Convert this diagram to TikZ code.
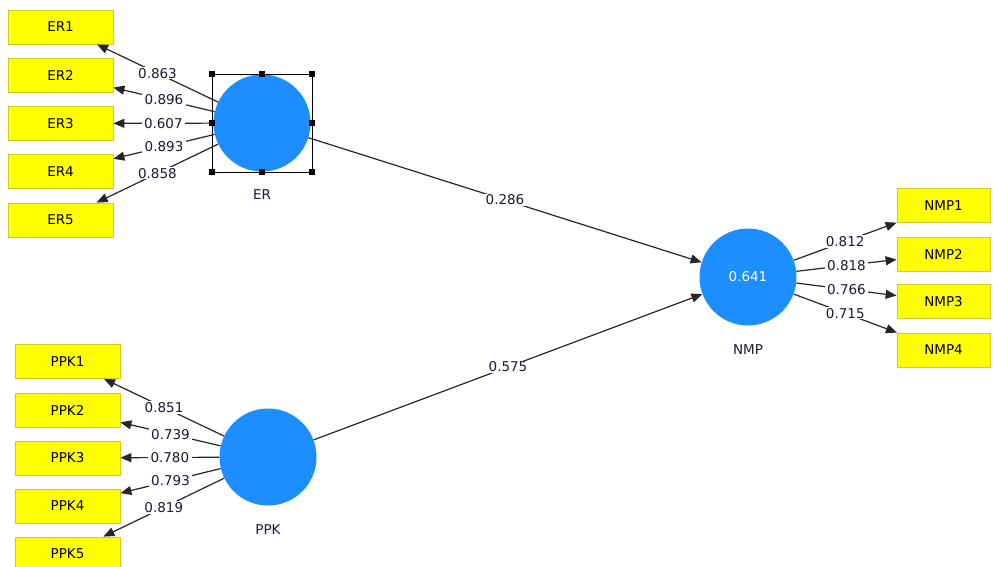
\documentclass[tikz,border=0pt]{standalone}
\usepackage{fontspec}
\setmainfont{DejaVu Sans}
\usetikzlibrary{arrows.meta}
\definecolor{lvblue}{RGB}{28,142,255}
\definecolor{indyel}{RGB}{255,255,0}
\definecolor{indbord}{RGB}{205,205,40}
\definecolor{lbltxt}{RGB}{25,25,50}
\begin{document}
\begin{tikzpicture}[x=1pt,y=-1pt,
  every node/.style={font=\fontsize{13.5}{15}\selectfont},
  ind/.style={draw=indbord, fill=indyel, line width=0.8pt, minimum width=105pt, minimum height=34pt, inner sep=0pt, text=black},
  indn/.style={ind, minimum width=93pt},
  lv/.style={circle, fill=lvblue, minimum size=97pt, inner sep=0pt},
  lvname/.style={text=lbltxt},
  ld/.style={draw=black!85, line width=1.2pt, -{Triangle[length=11pt,width=9pt]}},
  lbl/.style={fill=white, inner xsep=2.5pt, inner ysep=1pt, text=lbltxt},
  handle/.style={fill=black, minimum size=6pt, inner sep=0pt}]
\useasboundingbox (0,0) rectangle (993,567);
\fill[white] (0,0) rectangle (993,567);

% indicator boxes
\node[ind] (ER1) at (60.5,27) {ER1};
\node[ind] (ER2) at (60.5,75) {ER2};
\node[ind] (ER3) at (60.5,123.5) {ER3};
\node[ind] (ER4) at (60.5,171.5) {ER4};
\node[ind] (ER5) at (60.5,220) {ER5};
\node[ind] (PPK1) at (67.5,361.5) {PPK1};
\node[ind] (PPK2) at (67.5,410) {PPK2};
\node[ind] (PPK3) at (67.5,458) {PPK3};
\node[ind] (PPK4) at (67.5,506) {PPK4};
\node[ind] (PPK5) at (67.5,554) {PPK5};
\node[indn] (NMP1) at (943.5,205.5) {NMP1};
\node[indn] (NMP2) at (943.5,254) {NMP2};
\node[indn] (NMP3) at (943.5,301.5) {NMP3};
\node[indn] (NMP4) at (943.5,350) {NMP4};

% latent variables
\node[lv] (ER) at (262,123) {};
\node[lv] (PPK) at (268,457) {};
\node[lv, text=white] (NMP) at (748,277) {0.641};
\node[lvname] (ERn) at (262,195) {ER};
\node[lvname] (PPKn) at (268,530) {PPK};
\node[lvname] (NMPn) at (748,350) {NMP};

% selection frame around ER
\node[draw, line width=0.9pt, minimum width=100pt, minimum height=98pt, inner sep=0pt] (sel) at (262,123) {};
\foreach \a [count=\i] in {north west,north,north east,east,south east,south,south west,west}
  \node[handle] (h\i) at (sel.\a) {};

% outer loadings
\draw[ld] (ER) -- node[lbl,midway]{0.863} (ER1);
\draw[ld] (ER) -- node[lbl,midway]{0.896} (ER2);
\draw[ld] (ER) -- node[lbl,midway]{0.607} (ER3);
\draw[ld] (ER) -- node[lbl,midway]{0.893} (ER4);
\draw[ld] (ER) -- node[lbl,midway]{0.858} (ER5);
\draw[ld] (PPK) -- node[lbl,midway]{0.851} (PPK1);
\draw[ld] (PPK) -- node[lbl,midway]{0.739} (PPK2);
\draw[ld] (PPK) -- node[lbl,midway]{0.780} (PPK3);
\draw[ld] (PPK) -- node[lbl,midway]{0.793} (PPK4);
\draw[ld] (PPK) -- node[lbl,midway]{0.819} (PPK5);
\draw[ld] (NMP) -- node[lbl,midway]{0.812} (NMP1);
\draw[ld] (NMP) -- node[lbl,midway]{0.818} (NMP2);
\draw[ld] (NMP) -- node[lbl,midway]{0.766} (NMP3);
\draw[ld] (NMP) -- node[lbl,midway]{0.715} (NMP4);

% path coefficients
\draw[ld] (ER) -- node[lbl,midway]{0.286} (NMP);
\draw[ld] (PPK) -- node[lbl,midway]{0.575} (NMP);
\end{tikzpicture}
\end{document}
